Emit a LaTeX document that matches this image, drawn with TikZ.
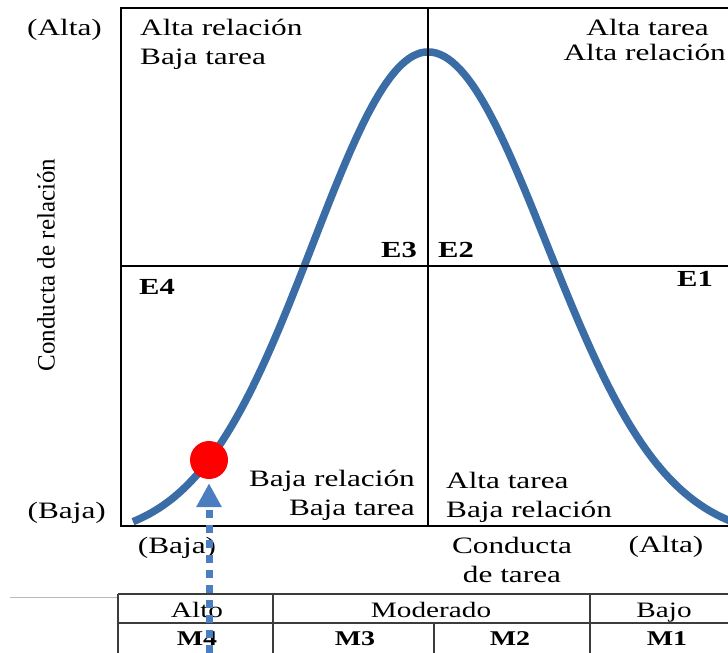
\documentclass[tikz,border=0pt]{standalone}
\usepackage{fontspec}
\setmainfont{Liberation Serif}[FakeStretch=1.33]
\newfontfamily\rotfont{Liberation Serif}
\usetikzlibrary{arrows.meta}

\definecolor{curveblue}{RGB}{58,108,166}
\definecolor{arrowblue}{RGB}{74,126,192}
\definecolor{ruleline}{RGB}{60,60,60}

\tikzset{
  txt/.style={font=\fontsize{23.5}{29}\selectfont, inner sep=0pt},
  estilo/.style={font=\fontsize{23}{27}\selectfont\bfseries, inner sep=0pt},
  celda/.style={font=\fontsize{22}{26}\selectfont, inner sep=0pt, anchor=base},
  madurez/.style={font=\fontsize{21}{24}\selectfont\bfseries, inner sep=0pt, anchor=base},
  curva/.style={curveblue, line width=7.5pt},
  flecha/.style={arrowblue, line width=7pt, dash pattern=on 8pt off 7pt,
    -{Triangle[width=24pt,length=24pt]}, shorten >=4pt},
}

\begin{document}
\begin{tikzpicture}[x=1pt, y=-1pt]
  \useasboundingbox (0,0) rectangle (728,653);
  % curve of leadership styles
  \draw[curva] plot[domain=133:428, samples=80] (\x, {540-488*exp(-(((\x-428)/100)^2)/2.6527)})
    -- plot[domain=428:745, samples=80] (\x, {540-488*exp(-(((\x-428)/100)^2)/2.817)});
  % quadrants
  \draw[line width=2.8pt] (121,8) rectangle (736,526);
  \draw[line width=2.8pt] (428,8) -- (428,526);
  \draw[line width=2.8pt] (121,266) -- (736,266);

  \node[txt, anchor=base east] (alta) at (102,35) {(Alta)};
  \node[txt, anchor=base east] (baja) at (106,518) {(Baja)};
  \node[font=\rotfont\fontsize{25}{30}\selectfont, rotate=90, inner sep=0pt] (ejey) at (46,265) {Conducta de relación};

  % last line of each block sits on the given baseline
  \node[txt, anchor=base west, align=left] (q3) at (140,64) {Alta relación\\Baja tarea};
  \node[txt, anchor=base east, align=right] (q2) at (726,60) {Alta tarea\hspace*{17pt}\\[-4pt]Alta relación};
  \node[txt, anchor=base east, align=right] (q4) at (415,515) {Baja relación\\Baja tarea};
  \node[txt, anchor=base west, align=left] (q1) at (446,517) {Alta tarea\\Baja relación};

  \node[estilo, anchor=base east] (e3) at (417,257) {E3};
  \node[estilo, anchor=base west] (e2) at (438,257) {E2};
  \node[estilo, anchor=base west] (e4) at (139,294) {E4};
  \node[estilo, anchor=base east] (e1) at (713,286) {E1};

  \node[txt, anchor=base] (bajax) at (177,553) {(Baja)};
  \node[txt, anchor=base, align=center] (ejex) at (512,582) {Conducta\\de tarea};
  \node[txt, anchor=base] (altax) at (666,552) {(Alta)};

  % maturity table
  \draw[gray!55, line width=0.8pt] (10,597) -- (118,597);
  \draw[ruleline, line width=1.4pt] (118,594) -- (740,594) (118,623) -- (740,623)
    (118,594) -- (118,660) (273,594) -- (273,660) (590,594) -- (590,660) (434,623) -- (434,660);
  \node[celda] (alto) at (197,617) {Alto};
  \node[celda] (moderado) at (431,617) {Moderado};
  \node[celda] (bajo) at (664,617) {Bajo};
  \node[madurez] (m4) at (197,645) {M4};
  \node[madurez] (m3) at (355,645) {M3};
  \node[madurez] (m2) at (510,645) {M2};
  \node[madurez] (m1) at (667,645) {M1};

  \node[circle, fill=red, minimum size=38pt, inner sep=0pt] (punto) at (209,460) {};
  \coordinate (origen) at (209,668);
  \draw[flecha] (origen) -- (punto);
\end{tikzpicture}
\end{document}
